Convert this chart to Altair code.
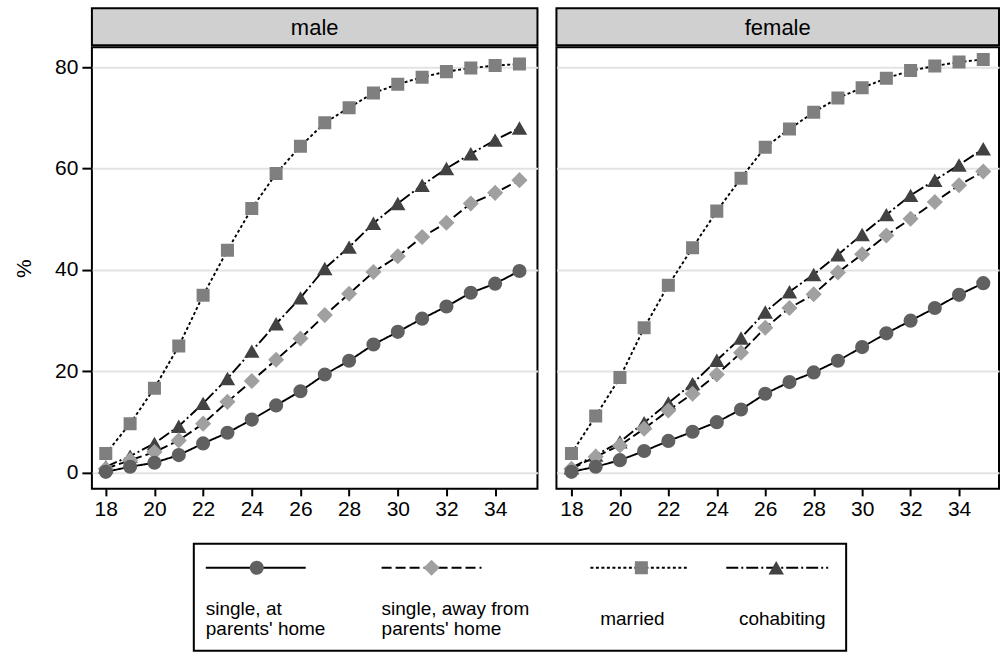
import altair as alt
import pandas as pd

# ---------------- data ----------------
ages = list(range(18, 36))
series_names = ["single, at parents' home", "single, away from parents' home", "married", "cohabiting"]

male_home = [0.2, 1.2, 2.0, 3.5, 5.8, 7.9, 10.5, 13.3, 16.1, 19.4, 22.1, 25.3, 27.8, 30.4, 32.8, 35.5, 37.3, 39.8]
male_away = [0.8, 2.5, 4.1, 6.4, 9.7, 14.0, 18.1, 22.3, 26.5, 31.1, 35.3, 39.6, 42.7, 46.5, 49.3, 53.1, 55.2, 57.7]
male_married = [3.8, 9.7, 16.7, 25.0, 35.0, 43.9, 52.1, 59.0, 64.4, 69.0, 72.0, 74.9, 76.6, 78.0, 79.1, 79.8, 80.3, 80.6]
male_cohab = [1.2, 3.3, 5.8, 9.2, 13.7, 18.6, 24.0, 29.4, 34.5, 40.3, 44.5, 49.2, 53.1, 56.7, 60.0, 62.9, 65.6, 68.0]

female_home = [0.2, 1.2, 2.5, 4.3, 6.3, 8.1, 10.0, 12.5, 15.6, 17.9, 19.8, 22.1, 24.8, 27.5, 30.0, 32.5, 35.1, 37.4]
female_away = [0.8, 3.2, 5.4, 8.7, 12.3, 15.6, 19.4, 23.7, 28.6, 32.5, 35.2, 39.5, 43.1, 46.8, 50.1, 53.4, 56.7, 59.4]
female_married = [3.8, 11.2, 18.8, 28.6, 37.0, 44.4, 51.6, 58.1, 64.2, 67.8, 71.1, 73.9, 75.9, 77.8, 79.3, 80.2, 81.0, 81.5]
female_cohab = [1.0, 3.5, 6.1, 9.9, 13.8, 17.6, 22.2, 26.6, 31.7, 35.7, 39.1, 43.0, 47.0, 50.9, 54.7, 57.7, 60.7, 63.9]

x_ticks = [18, 20, 22, 24, 26, 28, 30, 32, 34]
y_ticks = [0, 20, 40, 60, 80]
legend_line1 = ["single, at", "single, away from", "married", "cohabiting"]
legend_line2 = ["parents' home", "parents' home", "", ""]

# ---------------- styles ----------------
FONT = "Liberation Sans"
shapes = ["circle", "diamond", "square", "triangle-up"]
fills = ["#606060", "#a0a0a0", "#7f7f7f", "#424242"]
sizes = [200, 260, 170, 240]
dashes = [[1, 0], [10, 4], [3, 2.5], [12, 3, 2, 3]]
size_of = dict(zip(series_names, sizes))

shape_enc_scale = alt.Scale(domain=series_names, range=shapes)
color_scale = alt.Scale(domain=series_names, range=fills)
dash_scale = alt.Scale(domain=series_names, range=dashes)

Y_DOM = [-3.15, 83.9]
PLOT_H = 442
HEAD_H = 37
TICK_FS = 21


def long_df(home, away, married, cohab):
    rows = []
    # draw order: married, cohabiting, away, home (home on top)
    for name, vals in [(series_names[2], married), (series_names[3], cohab),
                       (series_names[1], away), (series_names[0], home)]:
        for a, v in zip(ages, vals):
            rows.append({"age": a, "pct": v, "series": name, "sz": size_of[name]})
    return pd.DataFrame(rows)


def panel(label, df, x_dom, width, show_y):
    if show_y:
        yaxis = alt.Axis(values=y_ticks, grid=True, gridColor="#e3e3e3", gridWidth=2,
                         tickSize=10, tickWidth=2, tickColor="black", domain=False,
                         labelFontSize=TICK_FS, labelFont=FONT, labelColor="black", labelPadding=4,
                         title="%", titleFont=FONT, titleFontSize=21, titleFontWeight="normal",
                         titleColor="black", titlePadding=20)
    else:
        yaxis = alt.Axis(values=y_ticks, grid=True, gridColor="#e3e3e3", gridWidth=2,
                         ticks=False, labels=False, domain=False, title=None)
    x = alt.X("age:Q", scale=alt.Scale(domain=x_dom, nice=False, zero=False),
              axis=alt.Axis(values=x_ticks, grid=False, tickSize=7, tickWidth=2, tickColor="black",
                            domain=False, labelFontSize=TICK_FS, labelFont=FONT, labelColor="black",
                            labelPadding=3, title=None))
    y = alt.Y("pct:Q", scale=alt.Scale(domain=Y_DOM, nice=False, zero=False), axis=yaxis)
    base = alt.Chart(df)
    lines = base.mark_line(color="black", strokeWidth=1.9, clip=True).encode(
        x=x, y=y, detail="series:N",
        strokeDash=alt.StrokeDash("series:N", scale=dash_scale, legend=None))
    pts = base.mark_point(filled=True, opacity=1, strokeWidth=0, clip=True).encode(
        x=x, y=y,
        shape=alt.Shape("series:N", scale=shape_enc_scale, legend=None),
        color=alt.Color("series:N", scale=color_scale, legend=None),
        size=alt.Size("sz:Q", scale=None, legend=None))
    plot = alt.layer(lines, pts).properties(
        width=width, height=PLOT_H,
        view=alt.ViewBackground(fill="white", stroke="black", strokeWidth=2))
    head = alt.Chart(pd.DataFrame({"panel": [label]})).mark_text(
        font=FONT, fontSize=22, color="black", align="center", baseline="middle").encode(
        text="panel:N", x=alt.value(width / 2), y=alt.value(HEAD_H / 2 + 1)).properties(
        width=width, height=HEAD_H,
        view=alt.ViewBackground(fill="#d0d0d0", stroke="black", strokeWidth=2))
    return alt.vconcat(head, plot, spacing=0)


left = panel("male", long_df(male_home, male_away, male_married, male_cohab),
             [17.43, 35.74], 446, True)
right = panel("female", long_df(female_home, female_away, female_married, female_cohab),
              [17.38, 35.65], 443, False)
top = alt.hconcat(left, right, spacing=17)

# ---------------- legend ----------------
LEG_W = 907
LEG_H = 108
box_x = [102, 755]
sym_x = [165, 340, 550, 685]
line_x0 = [114, 290, 499, 635]
line_x1 = [214, 390, 597, 737]
text_x = [114, 290, 541, 691]
text_align = ["left", "left", "center", "center"]
SYM_Y = 25
LINE1_Y = [66, 66, 76, 76]
LINE2_Y = 86
LEG_FS = 19

leg_df = pd.DataFrame({"series": series_names, "sx": sym_x, "x0": line_x0, "x1": line_x1,
                       "tx": text_x, "l1": legend_line1, "l2": legend_line2, "sz": sizes})
lx = alt.Scale(domain=[0, LEG_W], range=[0, LEG_W], nice=False, zero=False)

box = alt.Chart(pd.DataFrame({"x0": [box_x[0]], "x1": [box_x[1]]})).mark_rect(
    fill="white", stroke="black", strokeWidth=2).encode(
    x=alt.X("x0:Q", scale=lx, axis=None), x2="x1:Q",
    y=alt.value(1), y2=alt.value(LEG_H))
leg_lines = alt.Chart(leg_df).mark_rule(color="black", strokeWidth=1.9).encode(
    x=alt.X("x0:Q", scale=lx, axis=None), x2="x1:Q", y=alt.value(SYM_Y),
    strokeDash=alt.StrokeDash("series:N", scale=dash_scale, legend=None))
leg_pts = alt.Chart(leg_df).mark_point(filled=True, opacity=1, strokeWidth=0).encode(
    x=alt.X("sx:Q", scale=lx, axis=None), y=alt.value(SYM_Y),
    shape=alt.Shape("series:N", scale=shape_enc_scale, legend=None),
    color=alt.Color("series:N", scale=color_scale, legend=None),
    size=alt.Size("sz:Q", scale=None, legend=None))
texts = []
for i in range(4):
    row = leg_df.iloc[[i]]
    t1 = alt.Chart(row).mark_text(
        font=FONT, fontSize=LEG_FS, color="black", align=text_align[i], baseline="middle").encode(
        x=alt.X("tx:Q", scale=lx, axis=None), y=alt.value(LINE1_Y[i]), text="l1:N")
    texts.append(t1)
    if legend_line2[i]:
        t2 = alt.Chart(row).mark_text(
            font=FONT, fontSize=LEG_FS, color="black", align=text_align[i], baseline="middle").encode(
            x=alt.X("tx:Q", scale=lx, axis=None), y=alt.value(LINE2_Y), text="l2:N")
        texts.append(t2)

legend = alt.layer(box, leg_lines, leg_pts, *texts).properties(
    width=LEG_W, height=LEG_H, view=alt.ViewBackground(stroke=None))

chart = alt.vconcat(top, legend, spacing=22).properties(
    padding={"left": 12, "top": 7, "right": 0, "bottom": 0},
    background="white"
).configure_view(strokeWidth=0).resolve_scale(
    shape="independent", color="independent", strokeDash="independent")

chart.save("out.html", embed_options={"renderer": "svg", "actions": False})
